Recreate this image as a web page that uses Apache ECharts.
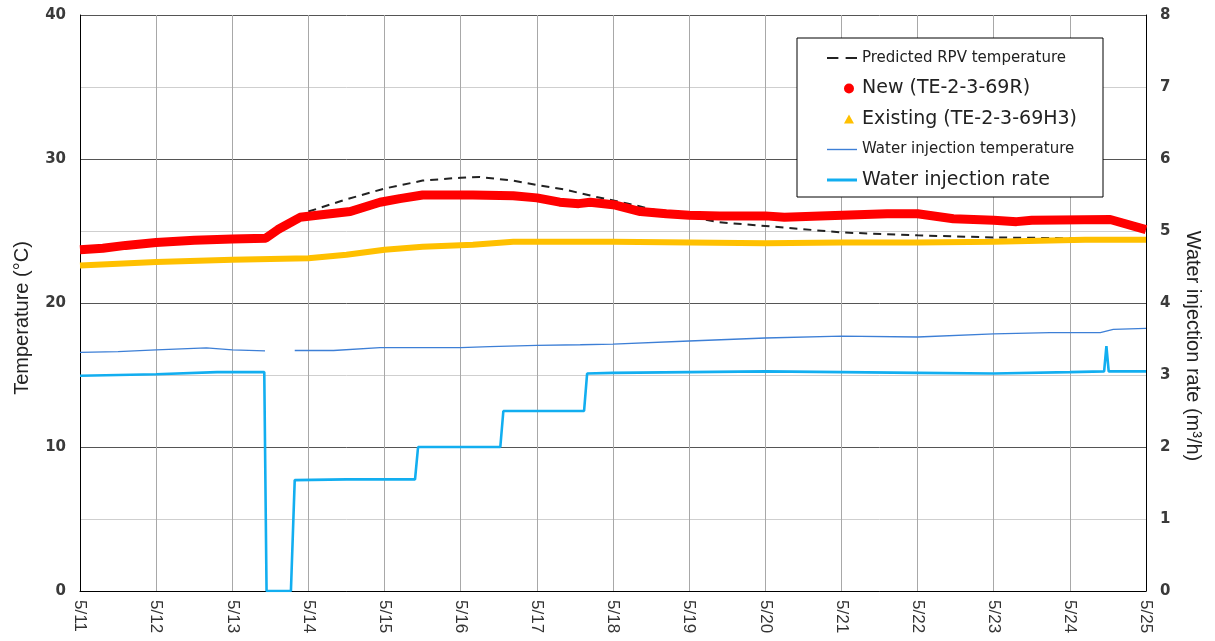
<!DOCTYPE html>
<html>
<head>
<meta charset="utf-8">
<script src="https://cdn.jsdelivr.net/npm/echarts@6/dist/echarts.min.js"></script>
<style>
html,body{margin:0;padding:0;background:#fff;}
#chart{width:1215px;height:641px;}
</style>
</head>
<body>
<div id="chart"></div>
<script>
// Tick labels (days since 5/11)
const dateLabels = ['5/11','5/12','5/13','5/14','5/15','5/16','5/17','5/18','5/19','5/20','5/21','5/22','5/23','5/24','5/25'];

// Predicted RPV temperature (°C)
const predDays = [3.0, 3.5, 4.0, 4.5, 5.0, 5.25, 5.69, 6.0, 6.35, 6.75, 7.2, 7.6, 8.0, 8.4, 9.0, 10.0, 11.0, 12.0, 13.0, 14.0];
const predTemp = [26.35, 27.2, 27.95, 28.5, 28.7, 28.75, 28.5, 28.2, 27.9, 27.4, 26.9, 26.4, 26.0, 25.6, 25.35, 24.9, 24.7, 24.55, 24.5, 24.45];

// New (TE-2-3-69R) (°C)
const newDays = [0, 0.3, 0.6, 1.0, 1.5, 2.0, 2.44, 2.6, 2.89, 3.2, 3.55, 3.94, 4.2, 4.5, 5.16, 5.69, 6.0, 6.3, 6.55, 6.7, 7.03, 7.36, 7.7, 8.0, 8.4, 9.0, 9.25, 9.72, 10.6, 11.0, 11.47, 12.0, 12.3, 12.5, 13.53, 14.0];
const newTemp = [23.7, 23.8, 24.0, 24.2, 24.35, 24.45, 24.5, 25.1, 25.95, 26.15, 26.35, 27.0, 27.25, 27.5, 27.5, 27.45, 27.3, 27.0, 26.9, 27.0, 26.8, 26.35, 26.2, 26.1, 26.05, 26.05, 25.95, 26.05, 26.2, 26.2, 25.85, 25.75, 25.65, 25.75, 25.8, 25.1];

// Existing (TE-2-3-69H3) (°C)
const exDays = [0, 1, 2, 2.5, 3.0, 3.5, 4.0, 4.5, 5.16, 5.69, 7, 8, 9, 10, 11, 12, 13.2, 14];
const exTemp = [22.6, 22.85, 23.0, 23.05, 23.1, 23.35, 23.7, 23.9, 24.05, 24.25, 24.25, 24.2, 24.15, 24.2, 24.2, 24.25, 24.4, 24.4];

// Water injection temperature (°C), null = missing data
const witDays = [0, 0.5, 1.0, 1.66, 2.0, 2.43, 2.6, 2.82, 3.33, 3.94, 5.0, 5.38, 6.0, 6.57, 7.0, 8.0, 9.0, 10.0, 11.0, 12.0, 12.74, 13.4, 13.57, 14.0];
const witTemp = [16.57, 16.62, 16.74, 16.88, 16.74, 16.67, null, 16.7, 16.7, 16.9, 16.9, 16.97, 17.06, 17.1, 17.15, 17.36, 17.57, 17.7, 17.64, 17.85, 17.94, 17.94, 18.17, 18.24];

// Water injection rate (m3/h)
const wirDays = [0, 1.0, 1.8, 2.42, 2.45, 2.77, 2.82, 3.5, 4.40, 4.44, 5.0, 5.52, 5.56, 6.0, 6.62, 6.66, 7.0, 8.0, 9.0, 10.0, 11.0, 12.0, 13.0, 13.45, 13.48, 13.51, 14.0];
const wirRate = [2.99, 3.01, 3.04, 3.04, 0, 0, 1.54, 1.55, 1.55, 2.0, 2.0, 2.0, 2.5, 2.5, 2.5, 3.02, 3.03, 3.04, 3.05, 3.04, 3.03, 3.02, 3.04, 3.05, 3.4, 3.05, 3.05];

const pair = (xs, ys) => xs.map((x, i) => [x, ys[i]]);

const FONT_H = 'DejaVu Sans';
const FONT_V = 'Liberation Sans';

const chart = echarts.init(document.getElementById('chart'), null, {renderer: 'canvas'});
chart.setOption({
  animation: false,
  backgroundColor: '#fff',
  grid: {left: 80, right: 69, top: 15, bottom: 50},
  xAxis: {
    type: 'value', min: 0, max: 14, interval: 1,
    axisLine: {show: true, lineStyle: {color: '#000', width: 1}},
    axisTick: {show: false},
    splitLine: {show: true, lineStyle: {color: '#a8a8a8', width: 1}},
    axisLabel: {
      rotate: -90, margin: 9, fontSize: 17, fontFamily: FONT_V, color: '#333',
      formatter: v => dateLabels[Math.round(v)] || ''
    }
  },
  yAxis: [
    {
      type: 'value', min: 0, max: 40, interval: 5, position: 'left',
      axisLine: {show: true, lineStyle: {color: '#000', width: 1}},
      axisTick: {show: false},
      splitLine: {show: true, lineStyle: {color: ['#555', '#cfcfcf'], width: 1}},
      axisLabel: {
        margin: 14, fontSize: 15, fontFamily: FONT_H, color: '#3a3a3a', fontWeight: 'bold',
        formatter: v => (v % 10 === 0 ? String(v) : '')
      }
    },
    {
      type: 'value', min: 0, max: 8, interval: 1, position: 'right',
      axisLine: {show: true, lineStyle: {color: '#000', width: 1}},
      axisTick: {show: false},
      splitLine: {show: false},
      axisLabel: {margin: 14, fontSize: 15, fontFamily: FONT_H, color: '#3a3a3a', fontWeight: 'bold'}
    }
  ],
  legend: {
    orient: 'vertical', left: 827, top: 48, padding: 0, z: 20,
    itemWidth: 30, itemHeight: 14, itemGap: 10.5,
    itemStyle: {borderWidth: 0},
    textStyle: {fontFamily: FONT_H, color: '#222', lineHeight: 20},
    data: [
      {name: 'Predicted RPV temperature', icon: 'path://M0,0 L11,0 L11,2 L0,2 Z M18,0 L29,0 L29,2 L18,2 Z', textStyle: {fontSize: 15}},
      {name: 'New (TE-2-3-69R)', icon: 'path://M0,0 L0.01,0 Z M30,0 L30.01,0 Z M17,0 A5,5 0 1 1 27,0 A5,5 0 1 1 17,0 Z', textStyle: {fontSize: 19}},
      {name: 'Existing (TE-2-3-69H3)', icon: 'path://M0,0 L0.01,0 Z M30,0 L30.01,0 Z M17,4.5 L22,-4.5 L27,4.5 Z', textStyle: {fontSize: 19}},
      {name: 'Water injection temperature', icon: 'path://M0,0 L30,0 L30,1.4 L0,1.4 Z', textStyle: {fontSize: 15}},
      {name: 'Water injection rate', icon: 'path://M0,0 L30,0 L30,3 L0,3 Z', textStyle: {fontSize: 19}}
    ]
  },
  graphic: [
    {type: 'rect', z: 10, shape: {x: 797, y: 38, width: 306, height: 159},
     style: {fill: '#fff', stroke: '#000', lineWidth: 1}},
    {type: 'text', x: 22, y: 318, rotation: Math.PI / 2, z: 10,
     style: {text: 'Temperature (°C)', fontSize: 20, fontFamily: FONT_V, fill: '#222', align: 'center', verticalAlign: 'middle'}},
    {type: 'text', x: 1193, y: 346, rotation: -Math.PI / 2, z: 10,
     style: {text: 'Water injection rate (m³/h)', fontSize: 20, fontFamily: FONT_V, fill: '#222', align: 'center', verticalAlign: 'middle'}}
  ],
  series: [
    {
      name: 'Predicted RPV temperature', type: 'line', yAxisIndex: 0, symbol: 'none', z: 2,
      itemStyle: {color: '#222'},
      lineStyle: {color: '#222', width: 2, type: [8, 6]},
      data: pair(predDays, predTemp)
    },
    {
      name: 'Existing (TE-2-3-69H3)', type: 'line', yAxisIndex: 0, symbol: 'none', z: 3,
      itemStyle: {color: '#ffc000'},
      lineStyle: {color: '#ffc000', width: 6},
      data: pair(exDays, exTemp)
    },
    {
      name: 'New (TE-2-3-69R)', type: 'line', yAxisIndex: 0, symbol: 'none', z: 4,
      itemStyle: {color: '#ff0000'},
      lineStyle: {color: '#ff0000', width: 9},
      data: pair(newDays, newTemp)
    },
    {
      name: 'Water injection temperature', type: 'line', yAxisIndex: 0, symbol: 'none', z: 3,
      connectNulls: false,
      itemStyle: {color: '#3d7fd6'},
      lineStyle: {color: '#3d7fd6', width: 1.3},
      data: pair(witDays, witTemp)
    },
    {
      name: 'Water injection rate', type: 'line', yAxisIndex: 1, symbol: 'none', z: 3,
      itemStyle: {color: '#12aef0'},
      lineStyle: {color: '#12aef0', width: 2.6},
      data: pair(wirDays, wirRate)
    }
  ]
});
</script>
</body>
</html>
